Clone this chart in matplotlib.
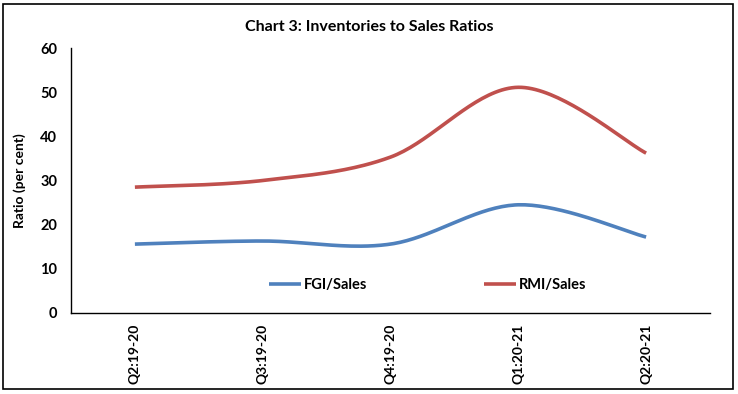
import numpy as np
import matplotlib
matplotlib.use("Agg")
import matplotlib.pyplot as plt
from matplotlib.patches import Rectangle

categories = ["Q2:19-20", "Q3:19-20", "Q4:19-20", "Q1:20-21", "Q2:20-21"]
fgi_sales = [15.6, 16.3, 15.6, 24.5, 17.2]
rmi_sales = [28.5, 30.0, 35.3, 51.1, 36.2]
y_ticks = [0, 10, 20, 30, 40, 50, 60]

plt.rcParams['font.family'] = ['Lato', 'DejaVu Sans']


def smooth(xs, ys, n=40):
    xs = np.asarray(xs, float)
    ys = np.asarray(ys, float)
    px, py = [], []
    m = len(xs)
    for i in range(m - 1):
        i0 = max(i - 1, 0)
        i3 = min(i + 2, m - 1)
        c1x = xs[i] + (xs[i + 1] - xs[i0]) / 6
        c1y = ys[i] + (ys[i + 1] - ys[i0]) / 6
        c2x = xs[i + 1] - (xs[i3] - xs[i]) / 6
        c2y = ys[i + 1] - (ys[i3] - ys[i]) / 6
        t = np.linspace(0, 1, n)
        bx = (1-t)**3*xs[i] + 3*(1-t)**2*t*c1x + 3*(1-t)*t**2*c2x + t**3*xs[i+1]
        by = (1-t)**3*ys[i] + 3*(1-t)**2*t*c1y + 3*(1-t)*t**2*c2y + t**3*ys[i+1]
        px.extend(bx); py.extend(by)
    return np.array(px), np.array(py)


fig = plt.figure(figsize=(7.38, 3.94), dpi=100)
ax = fig.add_axes([71/738, 1-313/394, (710-71)/738, (313-48)/394])

x = np.arange(len(categories))
sx, sy = smooth(x, fgi_sales)
ax.plot(sx, sy, color='#4F81BD', lw=2.6, label='FGI/Sales', solid_capstyle='butt')
sx, sy = smooth(x, rmi_sales)
ax.plot(sx, sy, color='#C0504D', lw=2.6, label='RMI/Sales', solid_capstyle='butt')

ax.set_xlim(-0.5, len(categories) - 0.5)
ax.set_ylim(0, 60)
ax.set_yticks(y_ticks)
ax.set_yticklabels([str(v) for v in y_ticks], fontsize=10.5, fontweight='bold')
ax.set_xticks(x)
ax.set_xticklabels(categories, rotation=90, fontsize=10, fontweight='bold')
ax.tick_params(axis='both', length=0)
ax.tick_params(axis='y', pad=10)
ax.tick_params(axis='x', pad=8)
for s in ['top', 'right']:
    ax.spines[s].set_visible(False)
for s in ['left', 'bottom']:
    ax.spines[s].set_linewidth(1.0)
    ax.spines[s].set_color('black')

ax.set_ylabel('Ratio (per cent)', fontsize=10, fontweight='bold', labelpad=10)

leg = ax.legend(loc='center', bbox_to_anchor=((427.5-71)/(710-71), (313-285)/(313-48)), ncol=2,
                frameon=False, handlelength=2.2, handletextpad=0.2,
                columnspacing=8.0, prop={'weight': 'bold', 'size': 10.5})

fig.text(0.5, 1-27/394, 'Chart 3: Inventories to Sales Ratios', ha='center', va='center',
         fontsize=11.5, fontweight='bold')

fig.patches.append(Rectangle((3/738, 1-389/394), 730/738, 385/394, transform=fig.transFigure,
                             fill=False, edgecolor='black', lw=1.2))

fig.savefig('out.png', dpi=100)
